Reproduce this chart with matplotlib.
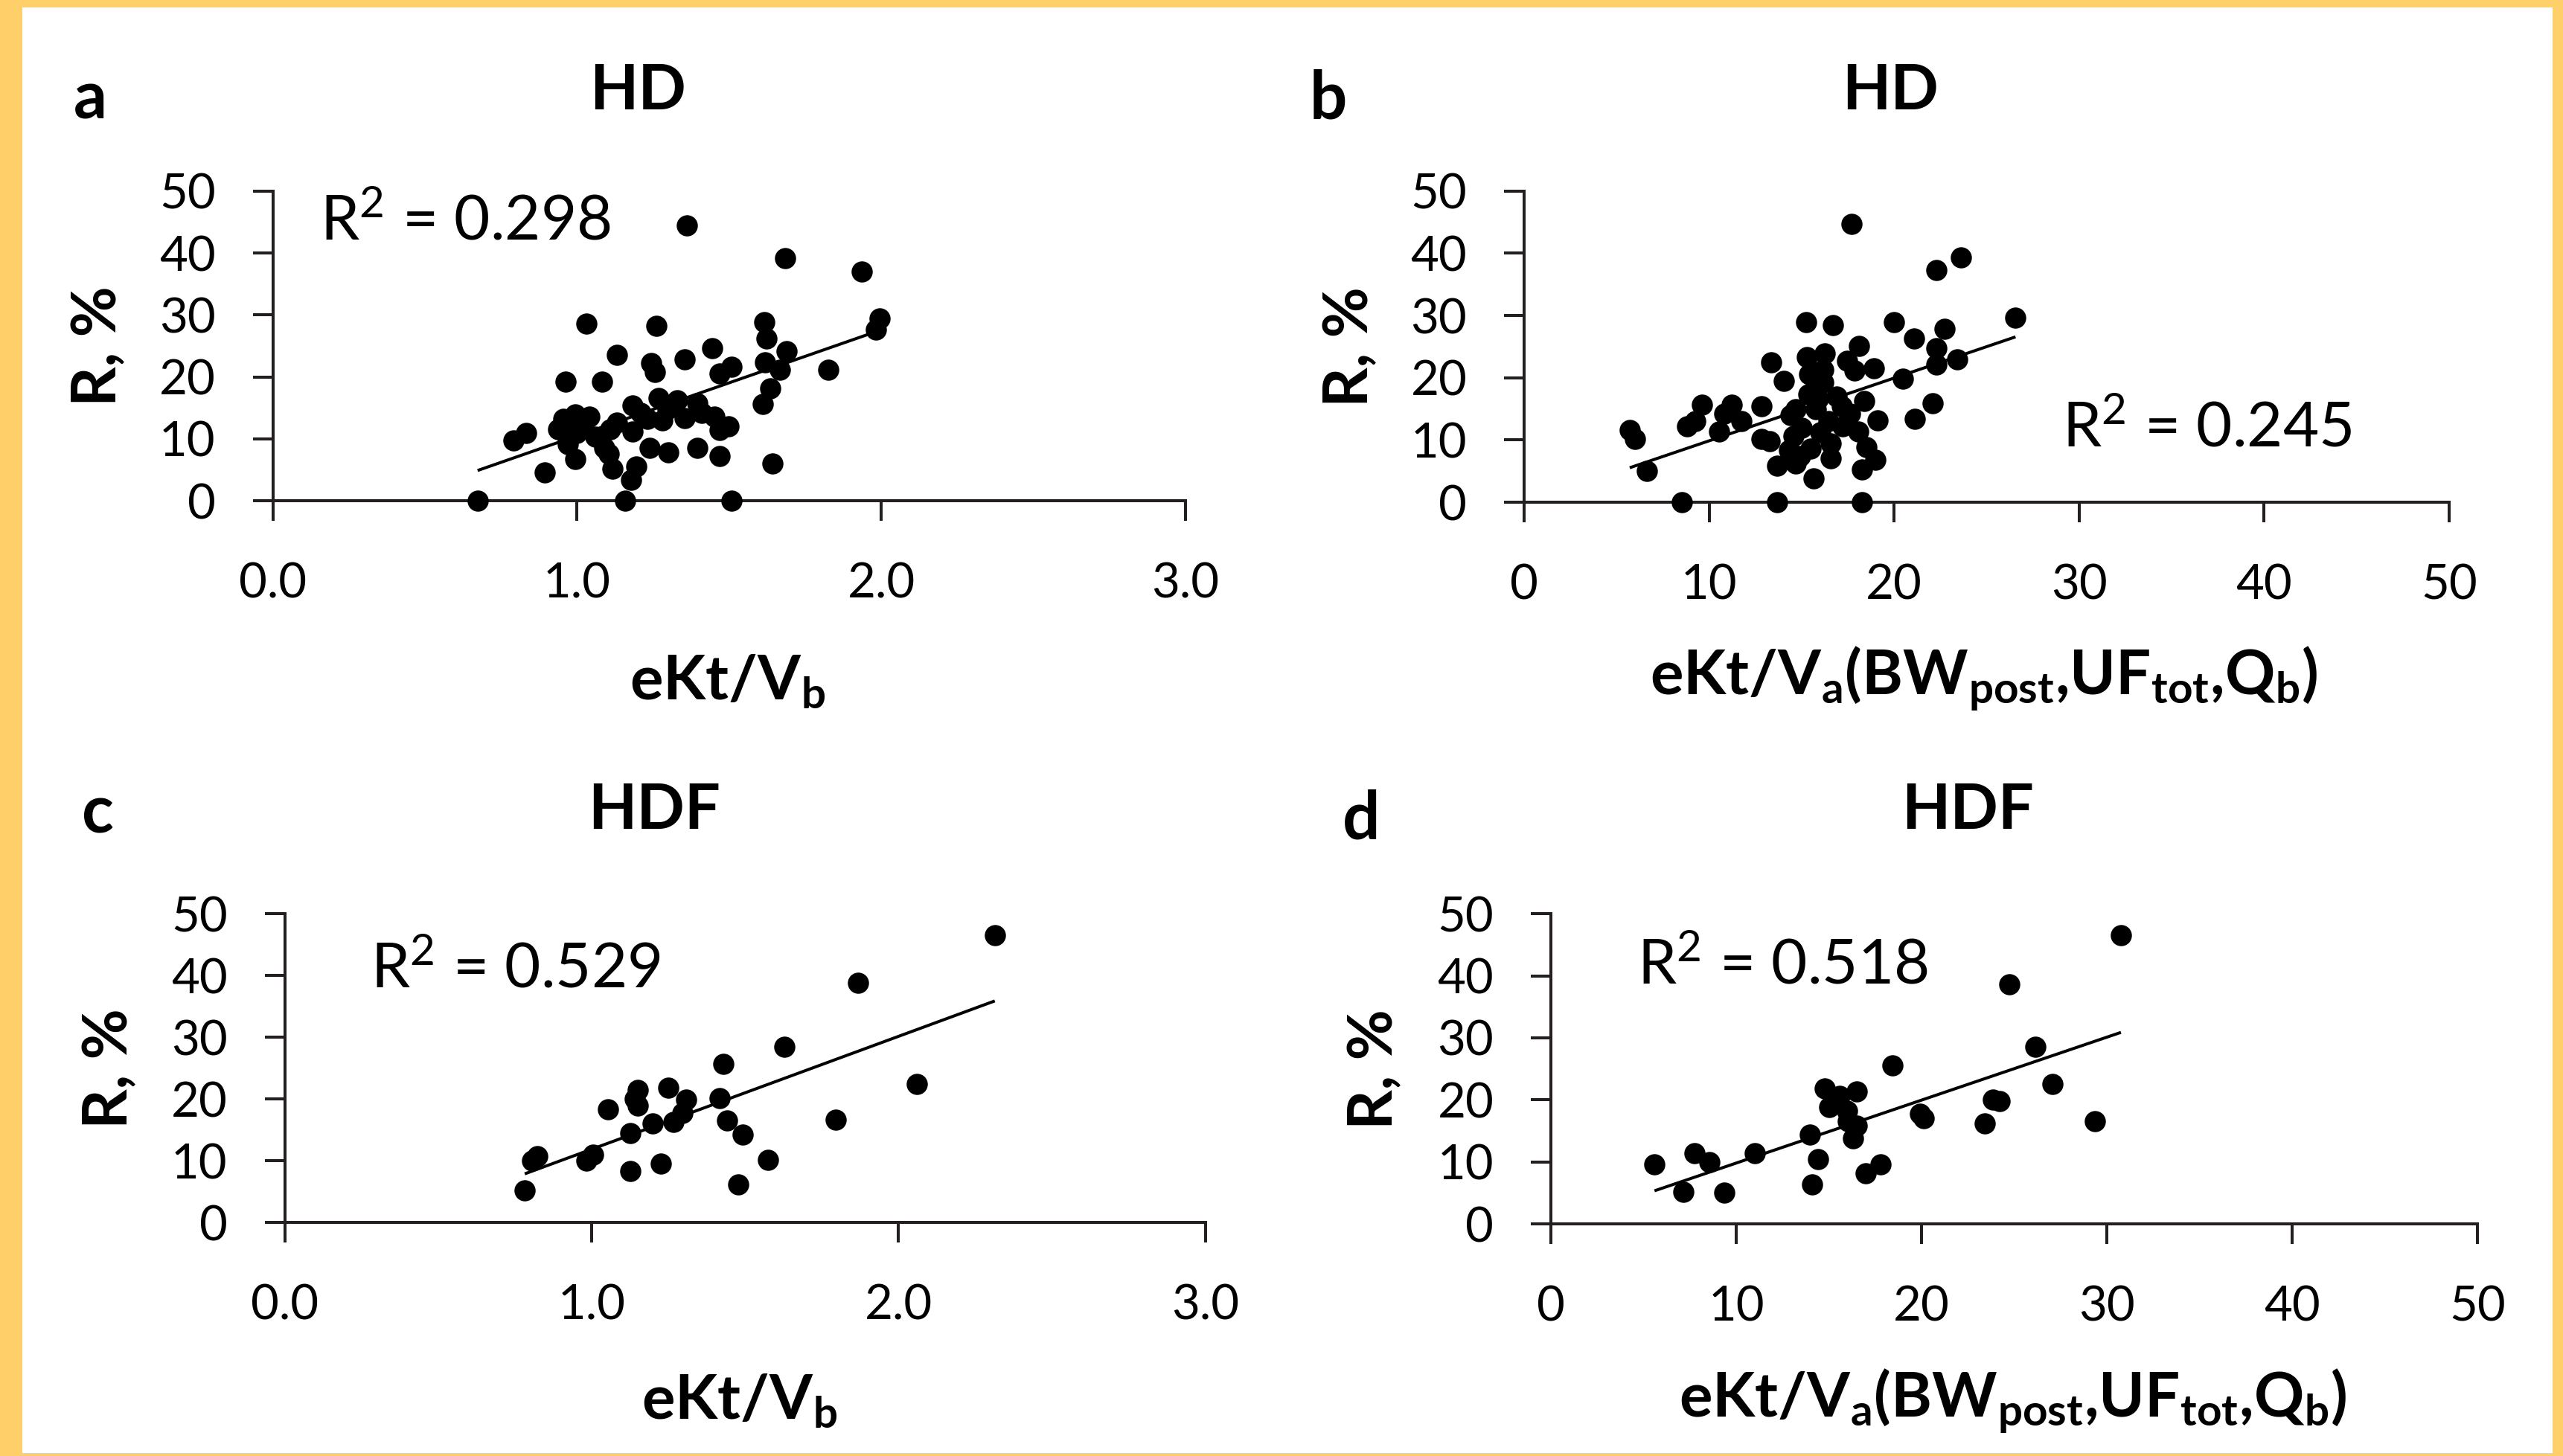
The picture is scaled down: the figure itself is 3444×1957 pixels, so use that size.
import matplotlib
matplotlib.use('Agg')
import matplotlib.pyplot as plt
import numpy as np
from matplotlib.patches import Rectangle

plt.rcParams['font.family'] = ['Lato', 'DejaVu Sans']
plt.rcParams['mathtext.fontset'] = 'custom'
plt.rcParams['mathtext.rm'] = 'Lato'
plt.rcParams['mathtext.it'] = 'Lato:italic'
plt.rcParams['mathtext.bf'] = 'Lato:bold'
plt.rcParams['mathtext.default'] = 'rm'

# ---------------- data ----------------
# Panel a: HD, eKt/Vb vs R
a_x = [0.673, 0.893, 0.791, 0.832, 0.962, 0.954, 0.995, 0.938, 0.970, 0.995, 0.962,
       1.362, 1.684, 1.937, 1.994, 1.982, 1.032, 1.260, 1.615, 1.623, 1.130, 1.444,
       1.354, 1.244, 1.256, 1.688, 1.619, 1.668, 1.827, 1.468, 1.509, 1.081, 1.635,
       1.611, 1.040, 1.183, 1.268, 1.297, 1.395, 1.354, 1.452, 1.497, 1.183, 1.109,
       1.232, 1.280, 1.240, 1.301, 1.395, 1.468, 1.643, 1.105, 1.117, 1.195, 1.178,
       1.158, 1.509, 1.020, 1.060, 1.090, 1.130, 1.210, 1.330, 1.410, 1.470, 1.000, 0.970]
a_y = [0.0, 4.6, 9.8, 11.0, 19.2, 13.2, 14.0, 11.6, 9.2, 6.8, 10.8,
       44.4, 39.2, 37.0, 29.4, 27.6, 28.6, 28.2, 28.8, 26.2, 23.6, 24.6,
       22.8, 22.2, 20.8, 24.2, 22.4, 21.2, 21.2, 20.6, 21.6, 19.2, 18.2,
       15.6, 13.6, 15.4, 16.6, 14.8, 15.8, 13.4, 13.6, 12.0, 11.2, 11.6,
       13.2, 13.0, 8.6, 7.8, 8.6, 7.2, 6.0, 7.6, 5.2, 5.6, 3.4,
       0.0, 0.0, 12.0, 10.4, 8.6, 12.6, 14.2, 16.2, 14.2, 11.4, 11.0, 12.4]

# Panel b: HD, eKt/Va(BWpost,UFtot,Qb) vs R
b_x = [8.52, 13.68, 5.70, 5.97, 6.64, 8.79, 9.26, 9.59, 10.80, 11.20, 10.53, 11.74,
       12.81, 12.81, 13.28, 13.35, 14.02, 15.23, 15.27, 13.68, 14.56, 14.69, 15.63,
       14.69, 15.36,
       17.71, 23.61, 22.27, 26.56, 16.70, 19.99, 22.74, 21.06, 18.11, 16.23, 22.27,
       23.41, 17.44, 17.84, 18.91, 22.27, 20.46, 16.16, 16.16, 15.76, 22.07, 21.13,
       18.38, 17.17, 19.11, 18.04, 16.46, 15.76, 16.57, 15.49, 16.57, 18.51, 18.98,
       18.24, 18.24,
       14.40, 15.00, 15.90, 16.90, 17.60, 14.90, 16.00, 17.20, 14.30, 15.40]
b_y = [0.0, 0.0, 11.6, 10.2, 5.0, 12.2, 13.0, 15.7, 14.2, 15.7, 11.4, 13.0,
       15.4, 10.2, 9.8, 22.5, 19.5, 28.9, 23.3, 5.8, 10.6, 6.2, 3.8,
       15.0, 17.3,
       44.7, 39.3, 37.3, 29.7, 28.5, 28.9, 27.9, 26.3, 25.1, 23.9, 24.7,
       22.9, 22.7, 21.1, 21.5, 22.1, 19.9, 21.3, 19.3, 18.1, 15.9, 13.4,
       16.3, 15.4, 13.2, 11.4, 13.0, 15.0, 9.4, 8.6, 7.0, 8.8, 6.8,
       5.2, 0.0,
       14.0, 12.0, 16.6, 17.0, 14.2, 7.4, 11.2, 12.2, 8.4, 20.5]

# Panel c: HDF, eKt/Vb vs R
c_x = [0.782, 0.805, 0.822, 0.984, 1.004, 1.053, 1.125, 1.125, 1.140, 1.150, 1.150,
       1.251, 1.307, 1.295, 1.267, 1.198, 1.226, 1.429, 1.416, 1.441, 1.493, 1.574,
       1.477, 1.627, 1.796, 1.869, 2.059, 2.314]
c_y = [5.2, 10.0, 10.8, 10.0, 11.0, 18.3, 14.5, 8.4, 20.0, 21.5, 18.9,
       21.9, 19.9, 17.7, 16.3, 16.1, 9.6, 25.7, 20.1, 16.5, 14.3, 10.2,
       6.2, 28.5, 16.7, 38.8, 22.5, 46.6]

# Panel d: HDF, eKt/Va(BWpost,UFtot,Qb) vs R
d_x = [5.58, 7.12, 7.73, 8.53, 9.33, 11.00, 13.95, 14.42, 14.08, 14.75, 14.99, 15.56,
       16.49, 15.96, 16.03, 16.49, 16.29, 16.96, 17.77, 18.43, 30.75, 24.73, 26.13,
       27.07, 29.35, 23.86, 24.20, 23.39, 19.91, 20.11]
d_y = [9.6, 5.2, 11.4, 10.0, 5.0, 11.4, 14.4, 10.4, 6.4, 21.8, 18.8, 20.6,
       21.4, 18.2, 16.6, 15.8, 13.8, 8.2, 9.6, 25.6, 46.6, 38.6, 28.6,
       22.6, 16.6, 20.0, 19.8, 16.2, 17.8, 17.0]

# Linear trend lines (slope, intercept)
trend_slope = [17.1, 1.008, 18.28, 1.015]
trend_intercept = [-6.6, -0.21, -6.4, -0.33]
r2_values = ['0.298', '0.245', '0.529', '0.518']

panel_letters = ['a', 'b', 'c', 'd']
panel_titles = ['HD', 'HD', 'HDF', 'HDF']
x_ticks_ekt = [0.0, 1.0, 2.0, 3.0]
x_ticks_va = [0, 10, 20, 30, 40, 50]
y_ticks = [0, 10, 20, 30, 40, 50]
xlabel_b = r'$\mathbf{eKt/V_b}$'
xlabel_a = r'$\mathbf{eKt/V_a(BW_{post}{,}UF_{tot}{,}Q_b)}$'
ylabel = 'R, %'

# ---------------- layout ----------------
W, H = 3444, 1957
BORDER = '#FFCF6A'
INK = '#231F20'

fig = plt.figure(figsize=(W / 100, H / 100), dpi=100)
fig.patch.set_facecolor(BORDER)
fig.add_artist(Rectangle((30 / W, 4 / H), 1 - 44 / W, 1 - 14 / H,
                         transform=fig.transFigure, facecolor='white',
                         edgecolor='none', zorder=-10))


def px_axes(x0, x1, ytop, ybot):
    return fig.add_axes([x0 / W, 1 - ybot / H, (x1 - x0) / W, (ybot - ytop) / H])


axes_px = [(366.7, 1592.8, 256.7, 673.3),
           (2048.3, 3290.8, 256.7, 675.0),
           (382.7, 1619.6, 1228.3, 1643.3),
           (2084.3, 3329.3, 1228.3, 1645.0)]
xs_all = [a_x, b_x, c_x, d_x]
ys_all = [a_y, b_y, c_y, d_y]
xlabels = [xlabel_b, xlabel_a, xlabel_b, xlabel_a]
xticks_all = [x_ticks_ekt, x_ticks_va, x_ticks_ekt, x_ticks_va]
xfmt = ['{:.1f}', '{:.0f}', '{:.1f}', '{:.0f}']
r2_pos = [(0.052, 0.841), (0.582, 0.179), (0.093, 0.762), (0.093, 0.775)]
xlabel_pos = [(0.498, -0.583), (0.497, -0.567), (0.494, -0.578), (0.498, -0.571)]
ylabel_pos = [(-0.191, 0.5), (-0.188, 0.5), (-0.190, 0.5), (-0.190, 0.5)]
title_pos = [(857, 147), (2540, 147), (879, 1114), (2644, 1114)]
letter_pos = [(99, 159), (1760, 159), (110, 1120), (1804, 1127)]

for i in range(4):
    ax = px_axes(*axes_px[i])
    ax.set_facecolor('none')
    for s in ['top', 'right']:
        ax.spines[s].set_visible(False)
    for s in ['left', 'bottom']:
        ax.spines[s].set_linewidth(2.9)
        ax.spines[s].set_color(INK)
    xt = xticks_all[i]
    ax.set_xlim(xt[0], xt[-1])
    ax.set_ylim(y_ticks[0], y_ticks[-1])
    ax.set_xticks(xt)
    ax.set_xticklabels([xfmt[i].format(v) for v in xt])
    ax.set_yticks(y_ticks)
    ax.set_yticklabels([str(v) for v in y_ticks])
    ax.tick_params(axis='both', direction='out', length=19.4, width=2.9,
                   color=INK, labelsize=47, labelcolor='black')
    ax.tick_params(axis='x', pad=40)
    ax.tick_params(axis='y', pad=36)

    x = np.array(xs_all[i])
    y = np.array(ys_all[i])
    ax.scatter(x, y, s=420, c='black', linewidths=0, clip_on=False, zorder=3)
    lx = np.array([x.min(), x.max()])
    ax.plot(lx, trend_slope[i] * lx + trend_intercept[i], color='black',
            lw=2.9, zorder=4, solid_capstyle='butt', clip_on=False)

    ax.text(r2_pos[i][0], r2_pos[i][1], 'R$^{2}$ = ' + r2_values[i],
            transform=ax.transAxes, fontsize=60, ha='left', va='baseline',
            color='black')

    ax.set_xlabel(xlabels[i], fontsize=60, va='center', ha='center')
    ax.xaxis.set_label_coords(*xlabel_pos[i])
    ax.set_ylabel(ylabel, fontsize=60, fontweight='bold', va='center', ha='center')
    ax.yaxis.set_label_coords(*ylabel_pos[i])

    fig.text(title_pos[i][0] / W, 1 - title_pos[i][1] / H, panel_titles[i],
             fontsize=61, fontweight='bold', ha='center', va='baseline')
    fig.text(letter_pos[i][0] / W, 1 - letter_pos[i][1] / H, panel_letters[i],
             fontsize=64, fontweight='bold', ha='left', va='baseline')

fig.savefig('out.png', dpi=100, facecolor=fig.get_facecolor())
